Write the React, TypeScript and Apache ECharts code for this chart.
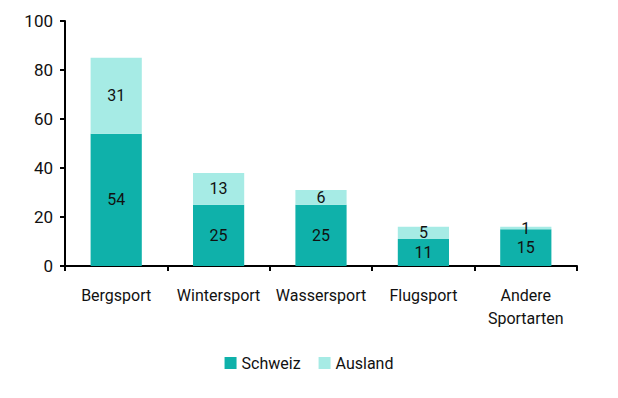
import React, { useEffect, useRef } from "react";
import * as echarts from "echarts";

const categories = ["Bergsport", "Wintersport", "Wassersport", "Flugsport", "Andere\nSportarten"];
const schweiz = [54, 25, 25, 11, 15];
const ausland = [31, 13, 6, 5, 1];
const yTicks = { min: 0, max: 100, interval: 20 };

const FONT = "Roboto, sans-serif";

export default function App() {
  const ref = useRef<HTMLDivElement>(null);
  useEffect(() => {
    if (!ref.current) return;
    const chart = echarts.init(ref.current, undefined, { renderer: "svg" });
    const label = {
      show: true,
      position: "inside",
      color: "#111",
      fontSize: 16,
      fontFamily: FONT,
    };
    chart.setOption({
      animation: false,
      textStyle: { fontFamily: FONT },
      grid: { left: 65, right: 41, top: 21, bottom: 132, containLabel: false },
      legend: {
        bottom: 22,
        left: "center",
        itemWidth: 12,
        itemHeight: 12,
        itemGap: 18,
        icon: "rect",
        textStyle: { fontSize: 16, color: "#111", fontFamily: FONT },
        data: ["Schweiz", "Ausland"],
      },
      xAxis: {
        type: "category",
        data: categories,
        axisLine: { lineStyle: { color: "#000", width: 2 } },
        axisTick: { show: true, length: 5, lineStyle: { color: "#000", width: 2 } },
        axisLabel: { color: "#111", fontSize: 16, margin: 18, lineHeight: 23, interval: 0, fontFamily: FONT },
      },
      yAxis: {
        type: "value",
        min: yTicks.min,
        max: yTicks.max,
        interval: yTicks.interval,
        axisLine: { show: true, lineStyle: { color: "#000", width: 2 } },
        axisTick: { show: true, length: 5, lineStyle: { color: "#000", width: 2 } },
        splitLine: { show: false },
        axisLabel: { color: "#111", fontSize: 17, margin: 12, fontFamily: FONT },
      },
      series: [
        {
          name: "Schweiz",
          type: "bar",
          stack: "total",
          data: schweiz,
          barWidth: "50%",
          itemStyle: { color: "#0fb1aa" },
          label,
        },
        {
          name: "Ausland",
          type: "bar",
          stack: "total",
          data: ausland,
          barWidth: "50%",
          itemStyle: { color: "#a6ebe5" },
          label,
        },
      ],
    });
    return () => chart.dispose();
  }, []);
  return <div ref={ref} style={{ width: 618, height: 398, position: "absolute", left: 0, top: 0 }} />;
}
